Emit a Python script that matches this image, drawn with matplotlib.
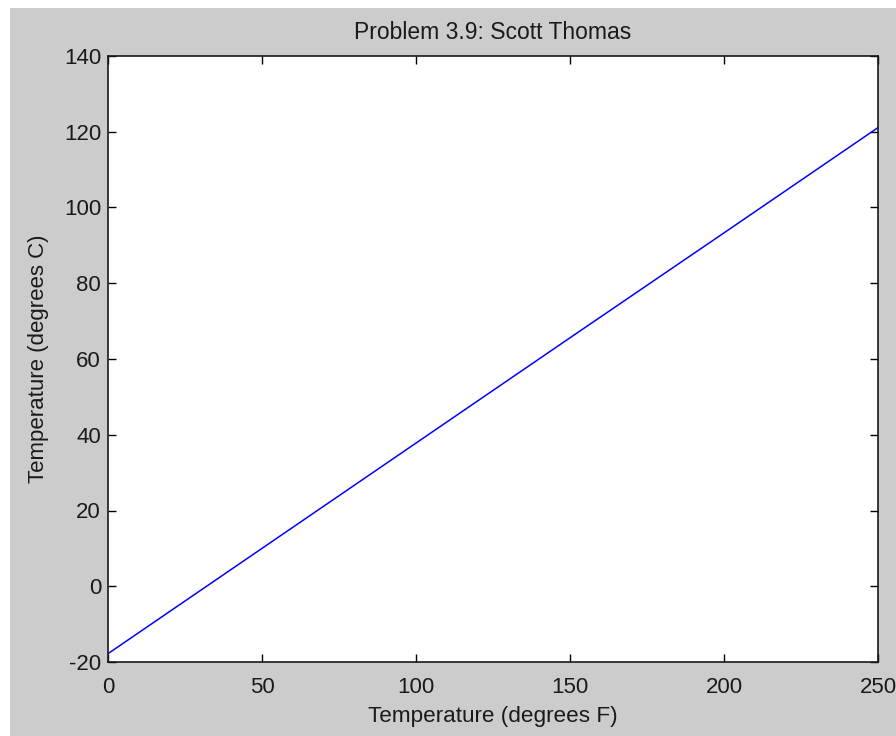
import matplotlib
matplotlib.use("Agg")
import matplotlib.pyplot as plt
from matplotlib.patches import Rectangle

# Data
temp_f = [0, 50, 100, 150, 200, 250]
temp_c = [-17.8, 10.0, 37.8, 65.6, 93.3, 121.1]
x_ticks = [0, 50, 100, 150, 200, 250]
y_ticks = [-20, 0, 20, 40, 60, 80, 100, 120, 140]

plt.rcParams['font.family'] = ['Liberation Sans', 'DejaVu Sans']
plt.rcParams['axes.unicode_minus'] = False

W, H = 896, 736
fig = plt.figure(figsize=(W / 100, H / 100), dpi=100, facecolor='white')
# gray figure panel (white strip at top and left edges)
fig.patches.append(Rectangle((10 / W, 0), 1, (H - 8) / H, transform=fig.transFigure,
                             facecolor='#cccccc', edgecolor='none', zorder=-10))

ax = fig.add_axes([108 / W, (H - 662) / H, (878 - 108) / W, (662 - 56) / H])
ax.set_zorder(5)
ax.set_facecolor('white')
ax.plot(temp_f, temp_c, color='#0000ff', linewidth=1.1)

ax.set_xlim(0, 250)
ax.set_ylim(-20, 140)
ax.set_xticks(x_ticks)
ax.set_yticks(y_ticks)
ax.tick_params(direction='in', length=6, width=1, top=True, right=True,
               labelsize=16, labelcolor='#1a1a1a')
ax.tick_params(axis='x', pad=11)
ax.tick_params(axis='y', pad=5)
for s in ax.spines.values():
    s.set_linewidth(1.2)
    s.set_color('#1a1a1a')

ax.set_title('Problem 3.9: Scott Thomas', fontsize=16.5, color='#1a1a1a', pad=12.5)
ax.set_xlabel('Temperature (degrees F)', fontsize=16.2, color='#1a1a1a', labelpad=5.5)
ax.set_ylabel('Temperature (degrees C)', fontsize=16, color='#1a1a1a', labelpad=11)

fig.savefig('out.png', dpi=100, facecolor=fig.get_facecolor())
